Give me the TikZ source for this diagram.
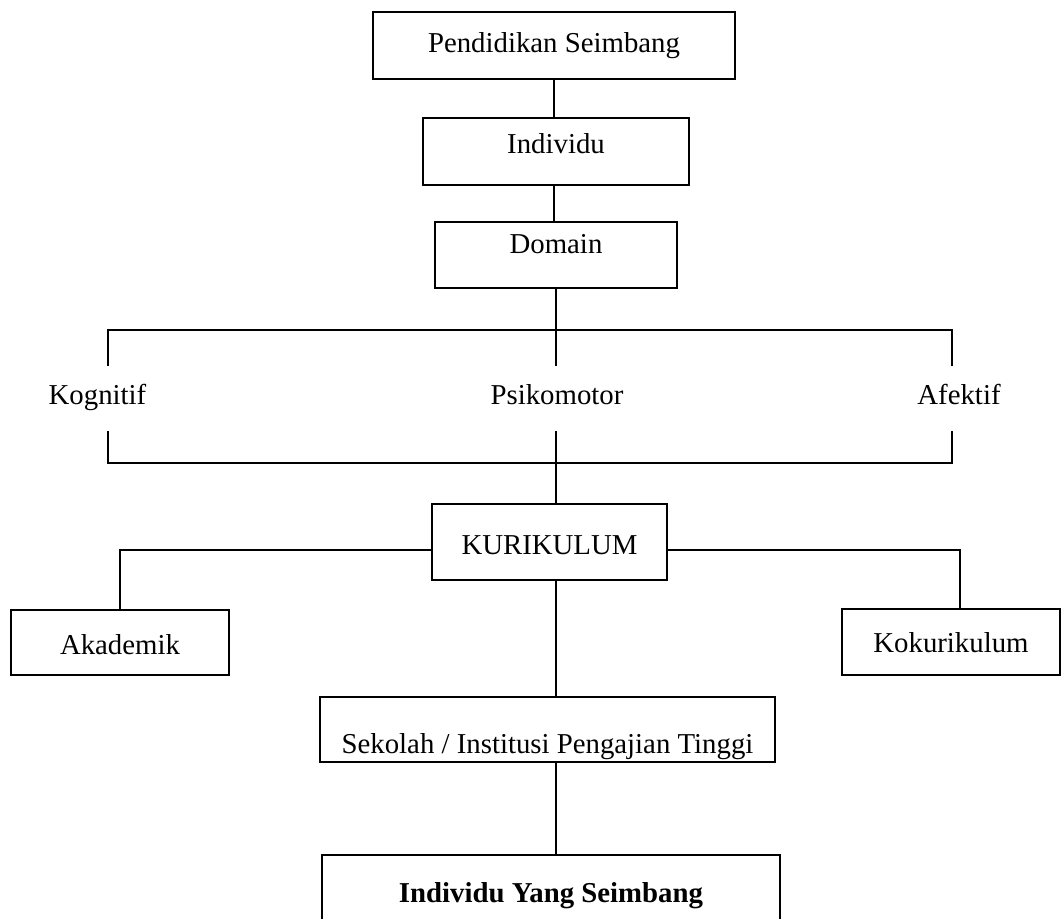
\documentclass[tikz,border=0pt]{standalone}
\usepackage{fontspec}
\setmainfont{Liberation Serif}

\begin{document}
\begin{tikzpicture}[x=0.5pt,y=-0.5pt,
    line width=0.9pt,
    every node/.style={font=\fontsize{14.4}{17}\selectfont},
    box/.style={draw,inner sep=0pt,anchor=base},
    domtext/.style={inner xsep=0pt,inner ysep=9.5pt,text height=9.5pt,text depth=3pt,anchor=base}]
    \useasboundingbox (0,0) rectangle (1062,919);

    % Top chain
    \node[box,minimum width=181pt,text height=20.5pt,text depth=13pt] (pend) at (554,53) {Pendidikan Seimbang};
    \node[box,minimum width=133pt,text height=18pt,text depth=15.5pt] (indiv) at (556,154) {Individu};
    \node[box,minimum width=121pt,text height=16pt,text depth=17pt] (domain) at (556,254) {Domain};

    % Domains
    \node[domtext] (kog) at (97.5,405) {Kognitif};
    \node[domtext] (psi) at (557,405) {Psikomotor};
    \node[domtext] (afe) at (959,405) {Afektif};

    % Kurikulum and branches
    \node[box,minimum width=117.5pt,text height=25.5pt,text depth=12.5pt] (kuri) at (549.5,555) {KURIKULUM};
    \node[box,minimum width=109pt,text height=22.5pt,text depth=10pt] (akad) at (120,655) {Akademik};
    \node[box,minimum width=109pt,text height=22pt,text depth=11pt] (koku) at (951,653) {Kokurikulum};

    % Bottom chain
    \node[box,minimum width=227.5pt,text height=28.5pt,text depth=4pt] (sek) at (547.5,754) {Sekolah / Institusi Pengajian Tinggi};
    \node[box,minimum width=229pt,text height=24pt,text depth=11pt] (ind) at (551,903) {\bfseries Individu Yang Seimbang};

    % Connectors
    \coordinate (kogtop) at (108,330);
    \coordinate (afetop) at (952,330);
    \coordinate (kogbot) at (108,463);
    \coordinate (afebot) at (952,463);

    \draw (pend.south) -- (pend.south |- indiv.north);
    \draw (indiv.south -| pend.south) -- (domain.north -| pend.south);
    \draw (domain.south) -- (domain.south |- psi.north);
    \draw (kog.north -| kogtop) -- (kogtop) -- (afetop) -- (afe.north -| afetop);
    \draw (kog.south -| kogbot) -- (kogbot) -- (afebot) -- (afe.south -| afebot);
    \draw (psi.south -| domain.south) -- (kuri.north -| domain.south);
    \draw ([yshift=-4pt]kuri.west) -| (akad.north);
    \draw ([yshift=-4pt]kuri.east) -| ([xshift=4.5pt]koku.north);
    \draw (kuri.south -| domain.south) -- (sek.north -| domain.south);
    \draw (sek.south -| domain.south) -- (ind.north -| domain.south);

\end{tikzpicture}
\end{document}
